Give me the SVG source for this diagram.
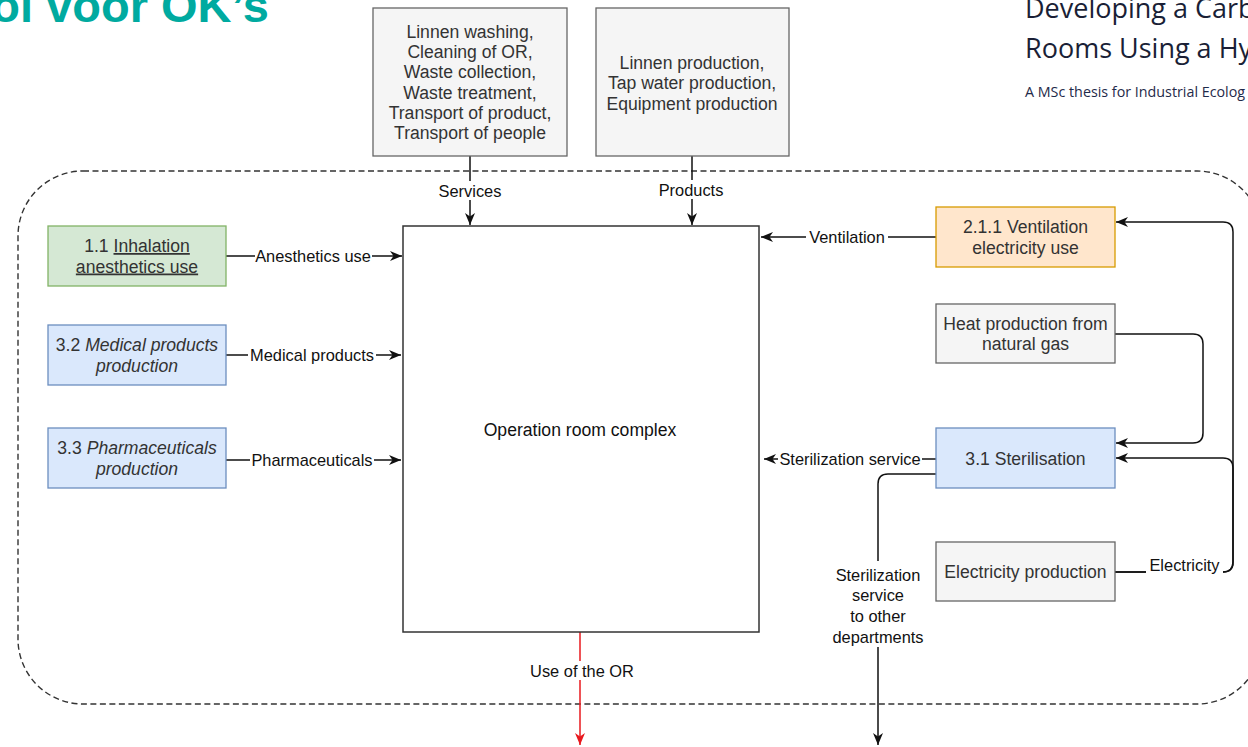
<svg xmlns="http://www.w3.org/2000/svg" width="1248" height="747" viewBox="0 0 1248 747">
<defs>
<style>
.box{stroke-width:1.3}
.grey{fill:#f5f5f5;stroke:#666666}
.green{fill:#d5e8d4;stroke:#82b366}
.blue{fill:#dae8fc;stroke:#6c8ebf}
.orange{fill:#ffe6cc;stroke:#d79b00}
.t{font-family:"Liberation Sans",Arial,sans-serif;font-size:17.6px;fill:#333333;text-anchor:middle}
.lbl{font-family:"Liberation Sans",Arial,sans-serif;font-size:16.4px;fill:#111111;text-anchor:middle}
.edge{fill:none;stroke:#111111;stroke-width:1.5}
.bg{fill:#ffffff}
.hd{font-family:"Open Sans",sans-serif;fill:#1a1f36}
</style>
<marker id="arr" markerUnits="userSpaceOnUse" markerWidth="13" markerHeight="11" refX="12" refY="5" orient="auto">
<path d="M0,0 L12,5 L0,10 L3.5,5 Z" fill="#111111"/>
</marker>
<marker id="arrRed" markerUnits="userSpaceOnUse" markerWidth="13" markerHeight="11" refX="12" refY="5" orient="auto">
<path d="M0,0 L12,5 L0,10 L3.5,5 Z" fill="#e8191e"/>
</marker>
</defs>
<rect width="1248" height="747" fill="#ffffff"/>

<g id="header">
<text x="269" y="22" font-family="Liberation Sans,Arial,sans-serif" font-weight="bold" font-size="47" fill="#00aaa0" text-anchor="end">ol voor OK’s</text>
<text class="hd" x="1025" y="18" font-size="27">Developing a Carb</text>
<text class="hd" x="1025" y="58" font-size="27">Rooms Using a Hy</text>
<text class="hd" x="1025" y="97" font-size="14.3" style="fill:#1f2a4a">A MSc thesis for Industrial Ecolog</text>
</g>

<g id="boundary">
<rect x="18" y="171" width="1244" height="533" rx="65" ry="65" fill="none" stroke="#333333" stroke-width="1.4" stroke-dasharray="6 3.5"/>
</g>

<g id="connectors">
<path class="edge" d="M470,156 V225" marker-end="url(#arr)"/>
<rect class="bg" x="434" y="181" width="72" height="19"/>
<text class="lbl" x="470" y="197">Services</text>

<path class="edge" d="M692,156 V225" marker-end="url(#arr)"/>
<rect class="bg" x="654" y="180" width="76" height="19"/>
<text class="lbl" x="691" y="196">Products</text>

<path class="edge" d="M226,256 H402" marker-end="url(#arr)"/>
<rect class="bg" x="255" y="247" width="117" height="19"/>
<text class="lbl" x="313" y="262">Anesthetics use</text>

<path class="edge" d="M226,355 H401" marker-end="url(#arr)"/>
<rect class="bg" x="248" y="346" width="128" height="19"/>
<text class="lbl" x="312" y="361">Medical products</text>

<path class="edge" d="M226,460 H401" marker-end="url(#arr)"/>
<rect class="bg" x="250" y="451" width="124" height="19"/>
<text class="lbl" x="312" y="466">Pharmaceuticals</text>

<path class="edge" d="M936,237 H761" marker-end="url(#arr)"/>
<rect class="bg" x="806" y="228" width="82" height="19"/>
<text class="lbl" x="847" y="243">Ventilation</text>

<path class="edge" d="M936,459 H764" marker-end="url(#arr)"/>
<rect class="bg" x="778" y="450" width="144" height="19"/>
<text class="lbl" x="850" y="465">Sterilization service</text>

<path class="edge" d="M936,474 H888 Q878,474 878,484 V745" marker-end="url(#arr)"/>
<rect class="bg" x="824" y="561" width="108" height="86"/>
<text class="lbl" x="878" y="580.5">Sterilization</text>
<text class="lbl" x="878" y="601">service</text>
<text class="lbl" x="878" y="622">to other</text>
<text class="lbl" x="878" y="642.5">departments</text>

<path class="edge" d="M1115,334 H1193 Q1203,334 1203,344 V433 Q1203,443 1193,443 H1116" marker-end="url(#arr)"/>
<path class="edge" d="M1115,572 H1223 Q1233,572 1233,562 V232 Q1233,222 1223,222 H1116" marker-end="url(#arr)"/>
<path class="edge" d="M1115,572 H1223 Q1233,572 1233,562 V468 Q1233,458 1223,458 H1116" marker-end="url(#arr)"/>
<rect class="bg" x="1146" y="556" width="77" height="20"/>
<text class="lbl" x="1184.5" y="571">Electricity</text>

<path d="M580,632 V745" fill="none" stroke="#e8191e" stroke-width="1.5" marker-end="url(#arrRed)"/>
<rect class="bg" x="522" y="661" width="120" height="19"/>
<text class="lbl" x="582" y="676.5">Use of the OR</text>
</g>

<g id="services">
<rect class="box grey" x="373" y="8" width="194" height="148"/>
<text class="t" x="470" y="38">Linnen washing,</text>
<text class="t" x="470" y="58">Cleaning of OR,</text>
<text class="t" x="470" y="78">Waste collection,</text>
<text class="t" x="470" y="98.5">Waste treatment,</text>
<text class="t" x="470" y="118.5">Transport of product,</text>
<text class="t" x="470" y="139">Transport of people</text>
</g>

<g id="products">
<rect class="box grey" x="596" y="8" width="193" height="148"/>
<text class="t" x="692" y="68.5">Linnen production,</text>
<text class="t" x="692" y="89">Tap water production,</text>
<text class="t" x="692" y="109.5">Equipment production</text>
</g>

<g id="or-complex">
<rect x="403" y="226" width="356" height="406" fill="#ffffff" stroke="#333333" stroke-width="1.5"/>
<text class="t" x="580" y="436" style="fill:#111111">Operation room complex</text>
</g>

<g id="inhalation">
<rect class="box green" x="48" y="226" width="178" height="60"/>
<text class="t" x="137" y="252">1.1 <tspan text-decoration="underline">Inhalation</tspan></text>
<text class="t" x="137" y="272.5" text-decoration="underline">anesthetics use</text>
</g>

<g id="medical">
<rect class="box blue" x="48" y="325" width="178" height="60"/>
<text class="t" x="137" y="351">3.2 <tspan font-style="italic">Medical products</tspan></text>
<text class="t" x="137" y="371.5" font-style="italic">production</text>
</g>

<g id="pharma">
<rect class="box blue" x="48" y="428" width="178" height="60"/>
<text class="t" x="137" y="454">3.3 <tspan font-style="italic">Pharmaceuticals</tspan></text>
<text class="t" x="137" y="474.5" font-style="italic">production</text>
</g>

<g id="ventilation">
<rect class="box orange" x="936" y="207" width="179" height="60"/>
<text class="t" x="1025.5" y="233">2.1.1 Ventilation</text>
<text class="t" x="1025.5" y="253.5">electricity use</text>
</g>

<g id="heat">
<rect class="box grey" x="936" y="304" width="179" height="59"/>
<text class="t" x="1025.5" y="329.5">Heat production from</text>
<text class="t" x="1025.5" y="350">natural gas</text>
</g>

<g id="sterilisation">
<rect class="box blue" x="936" y="428" width="179" height="60"/>
<text class="t" x="1025.5" y="464.5">3.1 Sterilisation</text>
</g>

<g id="electricity">
<rect class="box grey" x="936" y="542" width="179" height="59"/>
<text class="t" x="1025.5" y="577.5">Electricity production</text>
</g>
</svg>
